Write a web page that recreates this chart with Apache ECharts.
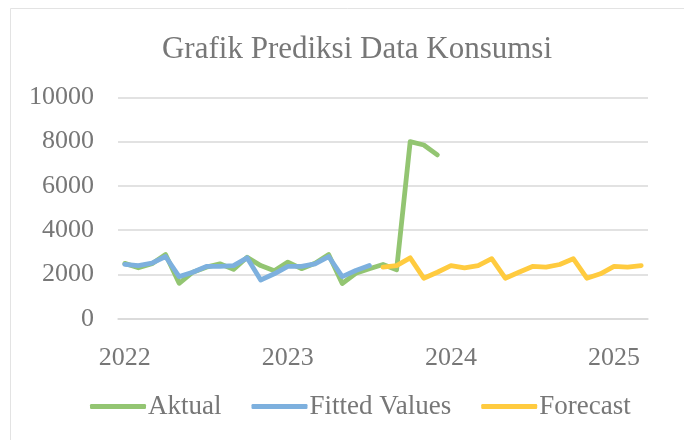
<!DOCTYPE html>
<html>
<head>
<meta charset="utf-8">
<script src="https://cdn.jsdelivr.net/npm/echarts@6/dist/echarts.min.js"></script>
<style>
  html, body { margin: 0; padding: 0; background: #fff; }
  #chart { width: 684px; height: 440px; }
</style>
</head>
<body>
<div id="chart"></div>
<script>
const months = [
  '2022-01', '2022-02', '2022-03', '2022-04', '2022-05', '2022-06', '2022-07', '2022-08', '2022-09', '2022-10', '2022-11', '2022-12',
  '2023-01', '2023-02', '2023-03', '2023-04', '2023-05', '2023-06', '2023-07', '2023-08', '2023-09', '2023-10', '2023-11', '2023-12',
  '2024-01', '2024-02', '2024-03', '2024-04', '2024-05', '2024-06', '2024-07', '2024-08', '2024-09', '2024-10', '2024-11', '2024-12',
  '2025-01', '2025-02', '2025-03'
];

const aktual = [2500, 2300, 2480, 2900, 1600, 2100, 2330, 2480, 2230, 2780, 2400, 2170,
  2560, 2260, 2510, 2900, 1590, 2050, 2260, 2450, 2210, 8000, 7850, 7400];

const fitted = [2450, 2400, 2510, 2810, 1900, 2100, 2360, 2360, 2400, 2750, 1750, 2030,
  2360, 2360, 2480, 2810, 1900, 2180, 2400];

// forecast starts at 2023-08
const forecastStart = '2023-08';
const forecast = [2330, 2400, 2750, 1830, 2100, 2400, 2300, 2400, 2710, 1830, 2100, 2360,
  2330, 2450, 2710, 1830, 2030, 2360, 2330, 2400];

const yTicks = { min: 0, max: 10000, interval: 2000 };

const font = "'Liberation Serif', 'Times New Roman', serif";
const textColor = '#777777';
const gridColor = '#d9d9d9';

const forecastIdx = months.indexOf(forecastStart);
const forecastData = months.map((m, i) => (i >= forecastIdx ? forecast[i - forecastIdx] : null));

const lineSeries = (name, data, color) => ({
  name: name,
  type: 'line',
  data: data,
  showSymbol: false,
  symbol: 'none',
  connectNulls: false,
  color: color,
  lineStyle: { width: 4.8, color: color, cap: 'round', join: 'round' }
});

const chart = echarts.init(document.getElementById('chart'));
chart.setOption({
  animation: false,
  backgroundColor: '#ffffff',
  graphic: [{
    type: 'rect',
    shape: { x: 10.5, y: 8.5, width: 700, height: 460 },
    style: { fill: 'none', stroke: '#e3e3e3', lineWidth: 1 }
  }],
  title: {
    text: 'Grafik Prediksi Data Konsumsi',
    left: 352,
    textAlign: 'center',
    top: 29,
    textStyle: { fontFamily: font, fontSize: 31, fontWeight: 'normal', color: textColor }
  },
  grid: { left: 118, right: 36, top: 97.4, bottom: 121.3 },
  legend: {
    bottom: 15,
    left: 85,
    icon: 'roundRect',
    itemWidth: 56,
    itemHeight: 5,
    itemGap: 30,
    textStyle: { fontFamily: font, fontSize: 27, color: textColor, padding: [0, 0, 0, -3] },
    data: ['Aktual', 'Fitted Values', 'Forecast']
  },
  xAxis: {
    type: 'category',
    boundaryGap: true,
    data: months,
    axisLine: { show: true, lineStyle: { color: gridColor, width: 1.5 } },
    axisTick: { show: false },
    axisLabel: {
      interval: (idx, val) => val.endsWith('-01'),
      formatter: (val) => val.slice(0, 4),
      margin: 26,
      fontFamily: font,
      fontSize: 26,
      color: textColor
    },
    splitLine: { show: false }
  },
  yAxis: {
    type: 'value',
    min: yTicks.min,
    max: yTicks.max,
    interval: yTicks.interval,
    axisLine: { show: false },
    axisTick: { show: false },
    axisLabel: {
      margin: 24,
      formatter: (v) => String(v),
      fontFamily: font,
      fontSize: 26,
      color: textColor
    },
    splitLine: { lineStyle: { color: gridColor, width: 1.5 } }
  },
  series: [
    lineSeries('Aktual', aktual, '#93C572'),
    lineSeries('Fitted Values', fitted, '#7DB0DE'),
    lineSeries('Forecast', forecastData, '#FFCB3F')
  ]
});
</script>
</body>
</html>
